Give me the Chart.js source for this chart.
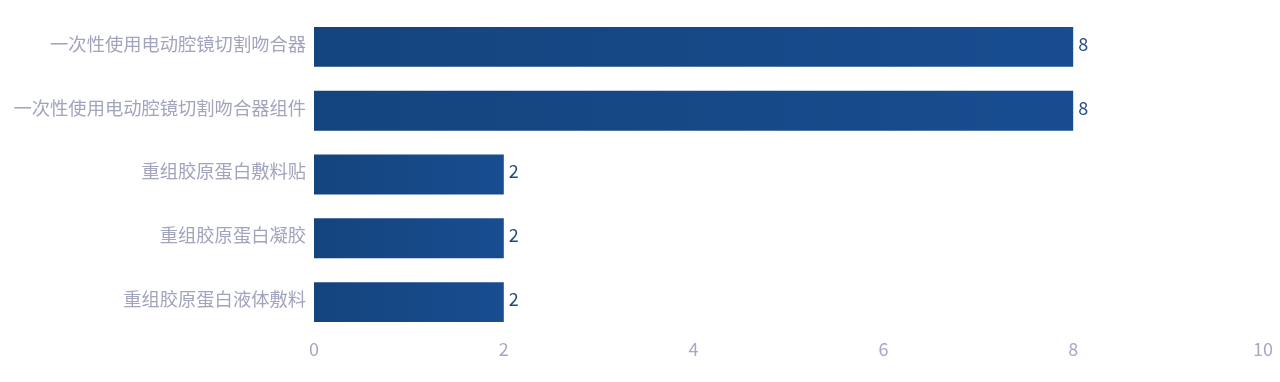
<!DOCTYPE html>
<html>
<head>
<meta charset="utf-8">
<script src="https://cdn.jsdelivr.net/npm/chart.js@4/dist/chart.umd.min.js"></script>
<style>
    html, body { margin: 0; padding: 0; background: #fff; }
    #wrap { width: 1280px; height: 382px; position: relative; }
</style>
</head>
<body>
<div id="wrap"><canvas id="productChart"></canvas></div>
<script>
const categories = [
    '一次性使用电动腔镜切割吻合器',
    '一次性使用电动腔镜切割吻合器组件',
    '重组胶原蛋白敷料贴',
    '重组胶原蛋白凝胶',
    '重组胶原蛋白液体敷料'
];
const counts = [8, 8, 2, 2, 2];
const xTicks = [0, 2, 4, 6, 8, 10];

const FONT = '"Noto Sans CJK SC", "Noto Sans", sans-serif';

// gradient along each bar, dark on the left
function barGradient(context) {
    const chart = context.chart;
    const area = chart.chartArea;
    if (!area || context.type !== 'data') return '#164a88';
    const xs = chart.scales.x;
    const x0 = xs.getPixelForValue(0);
    const x1 = xs.getPixelForValue(context.raw);
    const g = chart.ctx.createLinearGradient(x0, 0, x1, 0);
    g.addColorStop(0, '#14447d');
    g.addColorStop(1, '#184d90');
    return g;
}

// value labels at the end of each bar
const valueLabels = {
    id: 'valueLabels',
    afterDatasetsDraw(chart) {
        const ctx = chart.ctx;
        const meta = chart.getDatasetMeta(0);
        ctx.save();
        ctx.font = '18px ' + FONT;
        ctx.fillStyle = '#1f4a86';
        ctx.textAlign = 'left';
        ctx.textBaseline = 'middle';
        meta.data.forEach((bar, i) => {
            ctx.fillText(String(counts[i]), bar.x + 5, bar.y - 3);
        });
        ctx.restore();
    }
};

const ctx = document.getElementById('productChart').getContext('2d');
new Chart(ctx, {
    type: 'bar',
    data: {
        labels: categories,
        datasets: [{
            data: counts,
            backgroundColor: barGradient,
            borderWidth: 0,
            categoryPercentage: 1,
            barPercentage: 0.625
        }]
    },
    options: {
        indexAxis: 'y',
        responsive: true,
        maintainAspectRatio: false,
        animation: false,
        layout: { padding: { top: 15, right: 17, bottom: 0, left: 0 } },
        plugins: {
            legend: { display: false },
            tooltip: { enabled: false }
        },
        scales: {
            x: {
                min: 0,
                max: 10,
                afterBuildTicks: (scale) => { scale.ticks = xTicks.map(v => ({ value: v })); },
                afterFit: (scale) => { scale.height = 48; },
                grid: { display: false, drawTicks: false },
                border: { display: false },
                ticks: {
                    padding: 4,
                    color: '#a5a9c6',
                    font: { family: FONT, size: 18 }
                }
            },
            y: {
                afterFit: (scale) => {
                    scale.width = 314;
                    scale.paddingTop = 0;
                    scale.paddingBottom = 0;
                },
                grid: { display: false, drawTicks: false },
                border: { display: false },
                ticks: {
                    padding: 8,
                    labelOffset: -3,
                    color: '#a1a4bd',
                    font: { family: FONT, size: 18.3 }
                }
            }
        }
    },
    plugins: [valueLabels]
});
</script>
</body>
</html>
